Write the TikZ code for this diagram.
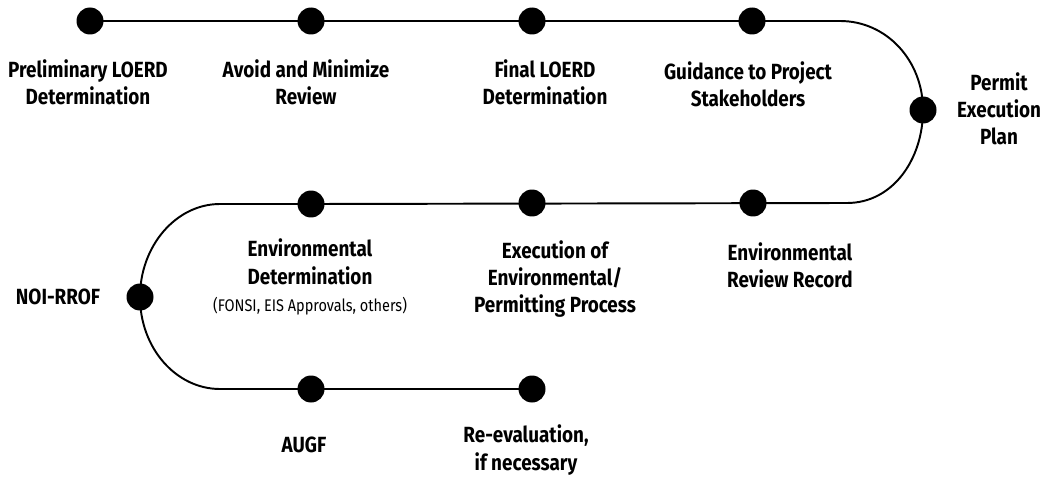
\documentclass[tikz,border=0pt]{standalone}
\usepackage{fontspec}
\setmainfont{Fira Sans}[FakeStretch=0.86]
\usetikzlibrary{positioning,backgrounds}

\newcommand{\smallnote}[1]{{\fontsize{9.6}{11}\selectfont\mdseries #1}}

\begin{document}
\begin{tikzpicture}[
  x=0.02cm, y=-0.02cm,
  every node/.style={font=\fontsize{12.5}{15.5}\selectfont\bfseries},
  track/.style={draw, line width=1.1pt},
  milestone/.style={circle, fill=black, inner sep=0pt, minimum size=0.54cm},
  caption/.style={align=center, inner sep=1pt}
]
\useasboundingbox (0,0) rectangle (1043,476);

% stops along the track
\node[milestone] (prelim)   at (90,21)   {};
\node[milestone] (avoid)    at (311,21)  {};
\node[milestone] (final)    at (532,21)  {};
\node[milestone] (guide)    at (752,21)  {};
\node[milestone] (permit)   at (923,110) {};
\node[milestone] (record)   at (753,203) {};
\node[milestone] (execute)  at (532,203) {};
\node[milestone] (envdet)   at (311,204) {};
\node[milestone] (noi)      at (140,297) {};
\node[milestone] (augf)     at (311,389) {};
\node[milestone] (reeval)   at (532,389) {};

% ends of the bends
\coordinate (rtop) at (840,21);
\coordinate (rbot) at (847,203);
\coordinate (ltop) at (220,204);
\coordinate (lbot) at (220,389);

\begin{scope}[on background layer]
\draw[track] (prelim.center) -- (guide.center) -- (rtop)
  .. controls (887,21) and (923,61) .. (permit.center)
  .. controls (923,159) and (893,203) .. (rbot)
  -- (envdet.center) -- (ltop)
  .. controls (176,204) and (140,246) .. (noi.center)
  .. controls (140,348) and (176,389) .. (lbot)
  -- (reeval.center);
\end{scope}

\node[caption] (tprelim)  at (88,82)   {Preliminary LOERD\\Determination};
\node[caption] (tavoid)   at (306,82)  {Avoid and Minimize\\Review};
\node[caption] (tfinal)   at (545,82)  {Final LOERD\\Determination};
\node[caption] (tguide)   at (748,84)  {Guidance to Project\\Stakeholders};
\node[caption] (tpermit)  at (999,109) {Permit\\Execution\\Plan};
\node[caption] (trecord)  at (790,265) {Environmental\\Review Record};
\node[caption] (texecute) at (555,279) {Execution of\\Environmental/\\Permitting Process};
\node[caption] (tenvdet)  at (310,277) {Environmental\\Determination\\\smallnote{(FONSI, EIS Approvals, others)}};
\node[caption] (tnoi)     at (58,297)  {NOI-RROF};
\node[caption] (taugf)    at (304,445) {AUGF};
\node[caption] (treeval)  at (526,450) {Re-evaluation,\\if necessary};
\end{tikzpicture}
\end{document}
